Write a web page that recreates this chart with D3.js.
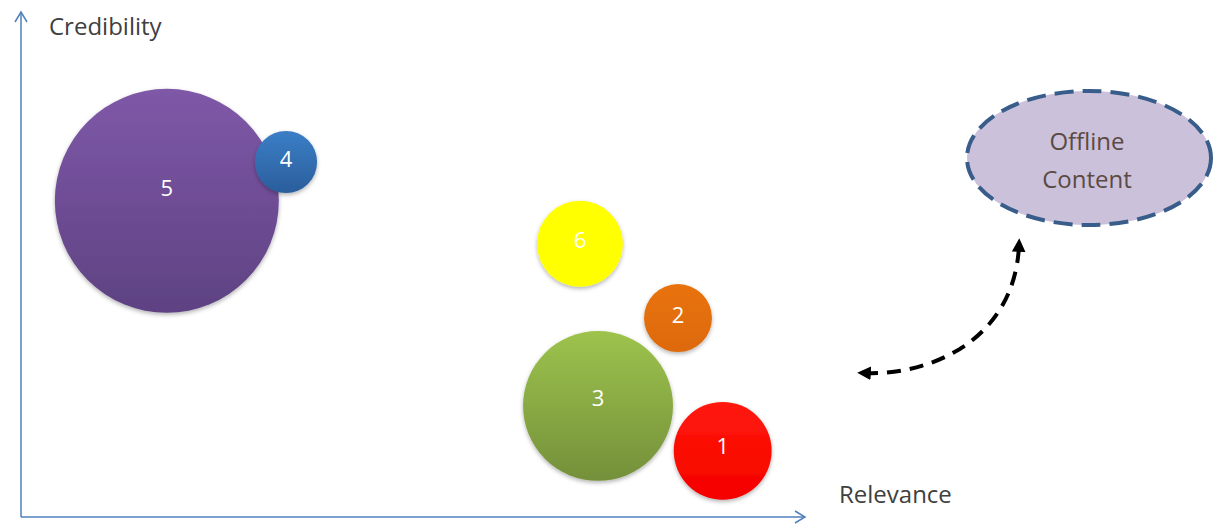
<!DOCTYPE html>
<html>
<head>
<meta charset="utf-8">
<script src="https://cdn.jsdelivr.net/npm/d3@7"></script>
<style>
  body { margin: 0; background: #fff; }
  svg { display: block; font-family: "Open Sans", "Liberation Sans", sans-serif; }
</style>
</head>
<body>
<div id="chart"></div>
<script>
const width = 1220;
const height = 527;

// bubble data (relevance, credibility on 0-100, size as relative area)
const labels = ["1", "2", "3", "4", "5", "6"];
const relevance = [89.5, 83.8, 73.6, 33.8, 18.6, 71.3];
const credibility = [13.1, 39.4, 22.0, 70.3, 62.6, 54.1];
const sizes = [19.1, 9.2, 44.8, 7.7, 100, 14.7];
const topColors = ["#ff1a0a", "#e8720e", "#9dc34d", "#3b7ec6", "#7f58a8", "#ffff00"];
const bottomColors = ["#f50000", "#dd6a08", "#74903a", "#2a5e9c", "#5e4282", "#ffff00"];

const axisLabels = ["Relevance", "Credibility"];
const calloutLines = ["Offline", "Content"];

const axisColor = "#4f81bd";

const x = d3.scaleLinear().domain([0, 100]).range([21, 805]);
const y = d3.scaleLinear().domain([0, 100]).range([517, 12]);
const r = d3.scaleSqrt().domain([0, 100]).range([0, 112]);

const svg = d3.select("#chart").append("svg")
    .attr("width", width)
    .attr("height", height);

const defs = svg.append("defs");

const shadow = defs.append("filter")
    .attr("id", "shadow")
    .attr("x", "-20%").attr("y", "-20%")
    .attr("width", "140%").attr("height", "140%");
shadow.append("feDropShadow")
    .attr("dx", 0).attr("dy", 2)
    .attr("stdDeviation", 2)
    .attr("flood-color", "#000")
    .attr("flood-opacity", 0.3);

labels.forEach((l, i) => {
    const g = defs.append("linearGradient")
        .attr("id", "grad" + i)
        .attr("x1", 0).attr("y1", 0).attr("x2", 0).attr("y2", 1);
    g.append("stop").attr("offset", "0%").attr("stop-color", topColors[i]);
    g.append("stop").attr("offset", "100%").attr("stop-color", bottomColors[i]);
});

// axes
const axes = svg.append("g")
    .attr("stroke", axisColor)
    .attr("stroke-width", 1.5)
    .attr("fill", "none");

axes.append("path")
    .attr("d", `M${x(0)},${y(0)} L${x(0)},${y(100)}`);
axes.append("path")
    .attr("d", `M${x(0) - 6},${y(100) + 10} L${x(0)},${y(100)} L${x(0) + 6},${y(100) + 10}`);
axes.append("path")
    .attr("d", `M${x(0)},${y(0)} L${x(100)},${y(0)}`);
axes.append("path")
    .attr("d", `M${x(100) - 10},${y(0) - 6} L${x(100)},${y(0)} L${x(100) - 10},${y(0) + 6}`);

svg.append("text")
    .attr("x", 49).attr("y", 35)
    .attr("font-size", 24)
    .attr("fill", "#404040")
    .text(axisLabels[1]);

svg.append("text")
    .attr("x", 839).attr("y", 503)
    .attr("font-size", 24)
    .attr("fill", "#404040")
    .text(axisLabels[0]);

// bubbles, largest drawn first so small ones sit on top
const data = labels.map((l, i) => ({
    label: l, x: relevance[i], y: credibility[i], size: sizes[i], idx: i
})).sort((a, b) => b.size - a.size);

const bubbles = svg.selectAll(".bubble")
    .data(data)
    .enter().append("g")
    .attr("class", "bubble");

bubbles.append("circle")
    .attr("cx", d => x(d.x))
    .attr("cy", d => y(d.y))
    .attr("r", d => r(d.size))
    .attr("fill", d => `url(#grad${d.idx})`)
    .attr("filter", "url(#shadow)");

bubbles.append("text")
    .attr("x", d => x(d.x))
    .attr("y", d => y(d.y) - r(d.size) * 0.12)
    .attr("text-anchor", "middle")
    .attr("dominant-baseline", "central")
    .attr("font-size", 22)
    .attr("fill", "#fff")
    .text(d => d.label);

// callout ellipse
const cx = 1089, cy = 158;
svg.append("ellipse")
    .attr("cx", cx).attr("cy", cy)
    .attr("rx", 122).attr("ry", 67)
    .attr("fill", "#ccc1da")
    .attr("stroke", "#385d8a")
    .attr("stroke-width", 4)
    .attr("stroke-dasharray", "19 9");

svg.append("text")
    .attr("x", cx - 2).attr("y", cy - 8)
    .attr("text-anchor", "middle")
    .attr("font-size", 24)
    .attr("fill", "#5a4a44")
    .text(calloutLines[0]);
svg.append("text")
    .attr("x", cx - 2).attr("y", cy + 30)
    .attr("text-anchor", "middle")
    .attr("font-size", 24)
    .attr("fill", "#5a4a44")
    .text(calloutLines[1]);

// curved dashed double arrow
defs.append("marker")
    .attr("id", "tip")
    .attr("viewBox", "0 0 10 10")
    .attr("refX", 5).attr("refY", 5)
    .attr("markerWidth", 3.4).attr("markerHeight", 3.4)
    .attr("markerUnits", "strokeWidth")
    .attr("orient", "auto-start-reverse")
    .append("path")
    .attr("d", "M0,0 L10,5 L0,10 Z")
    .attr("fill", "#000");

svg.append("path")
    .attr("d", "M864,373 C930,376 1015,340 1019,245")
    .attr("fill", "none")
    .attr("stroke", "#000")
    .attr("stroke-width", 4)
    .attr("stroke-dasharray", "14 9")
    .attr("marker-start", "url(#tip)")
    .attr("marker-end", "url(#tip)");
</script>
</body>
</html>
